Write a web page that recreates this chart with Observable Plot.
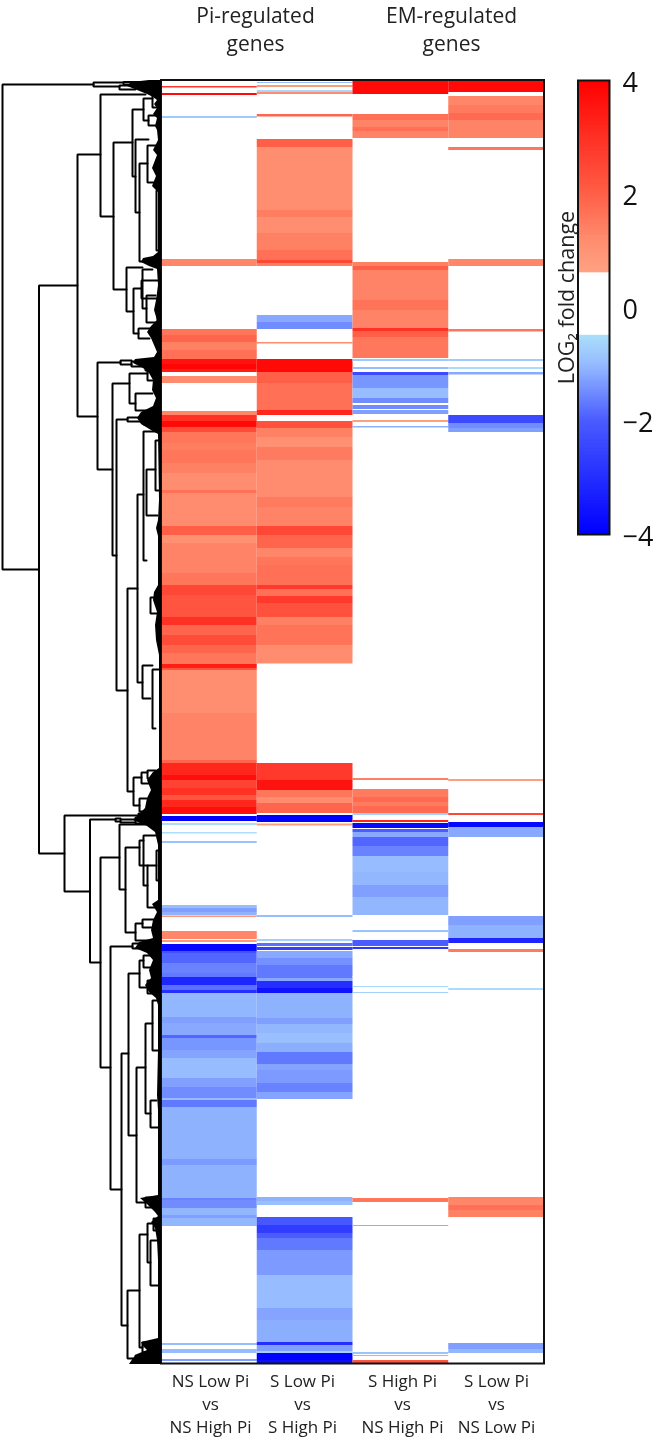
<!DOCTYPE html>
<html><head><meta charset="utf-8">
<script src="https://cdn.jsdelivr.net/npm/d3@7"></script>
<script src="https://cdn.jsdelivr.net/npm/@observablehq/plot@0.6"></script>
<style>
html,body{margin:0;padding:0;background:#fff}
#wrap{position:relative;width:657px;height:1439px;overflow:hidden}
#wrap svg{font-family:"Open Sans",sans-serif;background:transparent;filter:blur(0.4px)}
#legend{position:absolute;left:570px;top:0}
</style></head><body><div id="wrap"><div id="main"></div><div id="legend"></div></div>
<script>
// Heatmap columns: each band is [first row, last row, log2 fold change]
const colA = [[86,87.5,2.8],[93,95,3.8],[116,118,-0.8],[259,266,1.3],[329,335,1.6],[335,342,1.9],[342,350,1.4],[350,359,1.7],[359,364,3.6],[364,369,3.9],[369,372,3.4],[376,383,1.2],[411,415,1.3],[415,421,3],[421,427,3.8],[427,432,2.4],[432,443,1.6],[443,450,1.45],[450,463,1.6],[463,473,1.4],[473,490,1.15],[490,493,1.7],[493,526,1.2],[526,535,2],[535,543,1.1],[543,573,1.35],[573,585,1.6],[585,595,2.5],[595,617,2.2],[617,625,3],[625,635,1.9],[635,645,2.4],[645,653,1.9],[653,664,1.6],[664,668,3.4],[668,670,2.2],[670,713,1.15],[713,760,1.35],[760,763,1.9],[763,775,3.2],[775,780,3.7],[780,788,2.6],[788,795,3],[795,800,2.2],[800,807,3.2],[807,814,3.7],[816,821,-4],[823,825,-0.5],[832,833.5,-0.5],[841,843,-0.9],[905,908,-1],[908,912,-1.3],[912,915.5,-1.1],[916,917,1],[931,939,1.3],[940,942,0.8],[944,951,-3.8],[951,953,-2.2],[953,963,-1.9],[963,973,-1.6],[973,977,-1.7],[977,985,-3.2],[985,990,-1.8],[990,993,-3],[993,1017,-1.05],[1017,1023,-1.3],[1023,1035,-1.2],[1035,1038,-1.9],[1038,1050,-1.4],[1050,1058,-1.25],[1058,1078,-1],[1078,1087,-1.3],[1087,1098,-1.5],[1098,1100,-1],[1100,1107,-1.7],[1107,1159,-1.1],[1159,1165,-1.35],[1165,1198,-1.1],[1198,1200,-1.6],[1200,1208,-1.5],[1208,1215,-1.05],[1215,1218,-1.3],[1218,1226,-1.05],[1343,1345,-1],[1349,1353,-1],[1359,1361,-1.3]];
const colB = [[82,83,-1],[85,87,0.8],[90,92,-0.6],[92,94,1.2],[114,116.5,1.9],[139,147,2],[147,210,1.15],[210,217,1.45],[217,233,1.15],[233,250,1.4],[250,260,1.7],[260,263,2.5],[263,266,1.4],[315,322,-1.2],[322,329,-1.5],[342,343.5,1.2],[359,372,3.8],[372,383,2],[383,400,1.7],[400,410,1.7],[410,415,3.2],[421,428,2.3],[428,437,1.4],[437,447,1.1],[447,460,1.5],[460,497,1.2],[497,507,1.5],[507,526,1.35],[526,535,2.5],[535,548,1.9],[548,557,1.3],[557,565,1.6],[565,585,1.7],[585,589,2.8],[589,596,1.7],[596,603,2.8],[603,617,2.3],[617,625,1.4],[625,645,1.65],[645,663.5,1.2],[763,780,2.8],[780,790,3.6],[790,797,1.6],[797,803,1.2],[803,813,1.9],[815,822,-4],[823.5,825.5,0.7],[915,917,-1],[939,941,-0.7],[943,946,-1.8],[947,950,-2.6],[951,958,-1.2],[958,965,-1.45],[965,978,-1.7],[978,981,-1.2],[981,988,-3],[988,993,-3.6],[993,1018,-1.1],[1018,1024,-1.3],[1024,1033,-1.05],[1033,1043,-0.95],[1043,1052,-1.15],[1052,1064,-1.7],[1064,1070,-1.25],[1070,1083,-1.35],[1083,1092,-1.6],[1092,1099,-1.25],[1197,1201,-1.1],[1201,1205,-0.95],[1217,1225,-2.1],[1225,1233,-2.7],[1233,1238,-2],[1238,1250,-1.7],[1250,1275,-1.35],[1275,1308,-1],[1308,1320,-1.25],[1320,1342,-1.15],[1342,1345,-3],[1345,1351,-1.3],[1351,1353,-0.7],[1353,1360,-4],[1360,1363,-3.7]];
const colC = [[81,94,3.8],[114,120,1.7],[120,127,1.35],[127,131,1.7],[131,138,1.35],[262,266,1.4],[266,270,2],[270,300,1.35],[300,310,1.65],[310,328,1.35],[328,331,3],[331,337,2],[337,358,1.55],[359,361,-0.8],[367,369,-1],[372,375,-2.4],[375,388,-1.4],[388,398,-1],[398,403,-1.5],[405,409,-1.5],[410,414,-1.3],[420,422,0.7],[426,427.5,-1.1],[778,780,1.4],[789,797,1.5],[797,802,1.8],[802,806,1.5],[806,813,1.8],[813,815,-0.7],[820,822,3.2],[823,828,-3.8],[829,832,-2],[832,837,-1.2],[837,846,-1.9],[846,856,-1.6],[856,872,-1],[872,885,-1.05],[885,897,-1.3],[897,915,-1.05],[930,932,-0.9],[940,946,-2],[947,949,-2.8],[976,977,0.6],[986,987,-0.6],[992,993,-0.7],[1198,1202,1.6],[1225,1226,1.1],[1352,1354,-0.9],[1355,1356,0.7],[1360,1363,2.2]];
const colD = [[81,92,3.8],[96,105,1.3],[105,113,1.5],[113,120,1.8],[120,138,1.35],[147,150,1.6],[259,266,1.3],[329,331.5,1.6],[359,361,-0.8],[367,369,-0.55],[372,374.5,-1.2],[415,423,-2.4],[423,428,-1.5],[428,432,-1.3],[779,781,0.7],[813,815,2.5],[822,827,-3.8],[827,837,-1.2],[916,925,-1.3],[925,938,-1.1],[938,943,-3.2],[949,952,1.5],[988,990,-0.55],[1197,1205,1.3],[1205,1210,1.7],[1210,1217,1.4],[1343,1349,-1.3],[1349,1353,-1.05]];
const columns = [colA, colB, colC, colD];
const colWidth = 95.75;

// Dendrogram merges: [merge distance, top row, top child distance, bottom row, bottom child distance]
const merges = [[159,84,68,569,122.5],[122.5,285,84,853,97],[84,154,61,416,64],[61,94,16,216,48],[48,142,29,289,35],[29,109,18,176,26],[26,139,13,212,22],[22,163,14,261,12],[14,145,6,182,6],[5,190,2,250,2],[18,98,9,120,13],[9,95,4,107,3],[13,115,6,125,5],[35,267,19,311,28],[19,269,9,308,15],[28,288,20,333,23],[15,295,6,322,6],[20,280,4,298,3],[23,328,10,338,12],[4,303,1,320,1],
[68,82,38,86,42],[42,85,24,89,26],[38,81.5,22,84,22],
[64,362,41,469,49],[41,360,30,364,30],[30,361,16,366,16],[16,362,6,370,6],[49,383,32,555,45],[45,419,34,690,34],[34,417,18,421,18],[18,418,6,424,8],[32,373,14,403,26],[14,370,6,380,4],[26,393,9,410,14],
[34,588,24,791,28],[24,494,18,682,19],[18,431,6,560,15],[15,469,6,515,4],[6,440,2,490,2],[19,665,9,698,11],[9,669,3,728,6],[11,597,5,613,3],[28,777,20,805,22],[20,772,14,783,11],[22,798,15,811,11],[14,770,6,778,3],[11,800,5,806,3],
[97,815,23,891,71.5],[23,813,11,818,11],[71.5,819,46,962,61],[46,818,41,821,41],[41,819,26,822,26],[26,817,13,823,13],
[61,857,42,1067,51],[42,824,16,889,36],[36,847,22,932,26],[22,840,18,865,14],[18,835,6,885,14],[14,865,5,907,6],[5,850,2,880,2],[26,923,19,940,11],[19,919,8,927,6],
[51,946,29,1189,40],[29,943,16,948,16],[40,1053,33,1325,34],[33,973,22,1135,25],[22,960,18,987,14],[18,955,9,967,7],[14,980,7,993,6],[25,1067,16,1202,16],[16,1023,9,1113,11],[9,1000,3,1050,2],[11,1100,5,1127,3],[16,1197,9,1207,9],
[34,1290,22,1358,26],[22,1234,14,1347,19],[14,1223,8,1262,11],[8,1218,3,1230,3],[11,1240,3,1285,3],[19,1342,12,1352,14],[26,1355,16,1362,11],[16,1352,8,1358,8]];

// Density of very short branches near the leaves: [row, distance reached]
const leafClump = [[80,12],[82,30],[86,34],[90,24],[94,14],[97,8],[100,4],[104,7],[108,4],[114,8],[118,4],[126,6],[130,4],[140,3],[146,6],[150,8],[155,4],[168,9],[176,5],[186,9],[192,3],[252,3],[256,8],[258,18],[262,20],[266,12],[269,4],[285,3],[300,5],[310,7],[320,4],[326,10],[332,14],[338,10],[345,7],[352,4],[357,7],[359,26],[363,28],[368,18],[373,12],[380,8],[390,9],[398,5],[406,8],[412,20],[418,24],[424,20],[430,10],[434,3],[500,2],[520,3],[528,5],[536,3],[585,3],[592,7],[600,8],[612,4],[625,6],[640,5],[655,2],[768,2],[772,8],[780,14],[790,10],[798,14],[808,16],[814,22],[820,28],[826,14],[832,6],[845,3],[900,3],[904,9],[912,4],[920,8],[930,10],[938,8],[942,22],[948,26],[953,14],[960,8],[970,12],[978,10],[985,16],[992,12],[998,5],[1005,3],[1050,3],[1095,4],[1110,3],[1195,3],[1198,21],[1204,14],[1212,6],[1216,3],[1222,10],[1228,6],[1240,4],[1260,3],[1338,3],[1342,20],[1346,18],[1350,14],[1354,24],[1358,28],[1364,32]];

const frameBox = [{x1:0,x2:383,y1:80,y2:1363.5}];
const titles = [["Pi-regulated",94,16],["genes",94,44],["EM-regulated",290,16],["genes",290,44]];
const columnLabels = [["NS Low Pi","vs","NS High Pi",49],["S Low Pi","vs","S High Pi",141],["S High Pi","vs","NS High Pi",241],["S Low Pi","vs","NS Low Pi",335]];
const legendTitle = "LOG\u2082 fold change";
const legendTicks = [-4,-2,0,2,4];

const colorScale = {type:"linear",
  domain:[-4,-2,-1,-0.49,-0.49,0.61,0.61,1.2,2,4],
  range:["#0000ff","#4a5cff","#97bcff","#abdffa","#ffffff","#ffffff","#ffa284","#ff8c6e","#ff5f47","#ff0000"]};

const bands = columns.flatMap((c,i)=>c.map(([y1,y2,v])=>({i,y1,y2,v})));
const treePts = merges.flatMap(([d,yt,dt,yb,db],id)=>[
  {id,d:dt,y:yt},{id,d,y:yt},{id,d,y:yb},{id,d:db,y:yb}]);
const clump = leafClump.map(([y,d])=>({y,d}));
const labelRows = columnLabels.flatMap(([a,b,c,x])=>[{t:a,x,y:1381},{t:b,x,y:1404},{t:c,x,y:1427}]);

const chart = Plot.plot({
  width:657,height:1439,margin:0,
  x:{domain:[-161,496],range:[0,657],axis:null},
  y:{domain:[0,1439],range:[0,1439],axis:null},
  color:colorScale,
  marks:[
    Plot.rect(bands,{x1:d=>d.i*colWidth,x2:d=>(d.i+1)*colWidth,y1:"y1",y2:"y2",fill:"v"}),
    Plot.rect(frameBox,{x1:"x1",x2:"x2",y1:"y1",y2:"y2",fill:"none",stroke:"#111",strokeWidth:2}),
    Plot.areaX(clump,{y:"y",x1:d=>-d.d,x2:0,fill:"#000"}),
    Plot.line(treePts,{x:d=>-d.d,y:"y",z:"id",stroke:"#000",strokeWidth:2,curve:"linear",strokeLinejoin:"miter"}),
    Plot.text(titles,{x:d=>d[1],y:d=>d[2],text:d=>d[0],fontSize:21,fill:"#222"}),
    Plot.text(labelRows,{x:"x",y:"y",text:"t",fontSize:17,fill:"#222"}),
    Plot.text([legendTitle],{x:406,y:297,text:d=>d,rotate:-90,fontSize:21.5,fill:"#222"})
  ]
});
document.getElementById("main").append(chart);

const legendStops = d3.range(-4,4,0.02).map(v=>({v}));
const legend = Plot.plot({
  width:87,height:575,margin:0,
  x:{domain:[0,87],range:[0,87],axis:null},
  y:{domain:[-4,4],range:[534.5,80.5],axis:null},
  color:colorScale,
  marks:[
    Plot.rect(legendStops,{x1:8,x2:39.5,y1:"v",y2:d=>Math.min(4,d.v+0.035),fill:"v"}),
    Plot.rect([{a:-4,b:4}],{x1:8,x2:39.5,y1:"a",y2:"b",fill:"none",stroke:"#111",strokeWidth:2}),
    Plot.text(legendTicks,{x:52,y:d=>d,text:d=>d<0?"\u2212"+(-d):String(d),textAnchor:"start",fontSize:27,fill:"#111",dy:2}),
  ]
});
document.getElementById("legend").append(legend);
</script></body></html>
